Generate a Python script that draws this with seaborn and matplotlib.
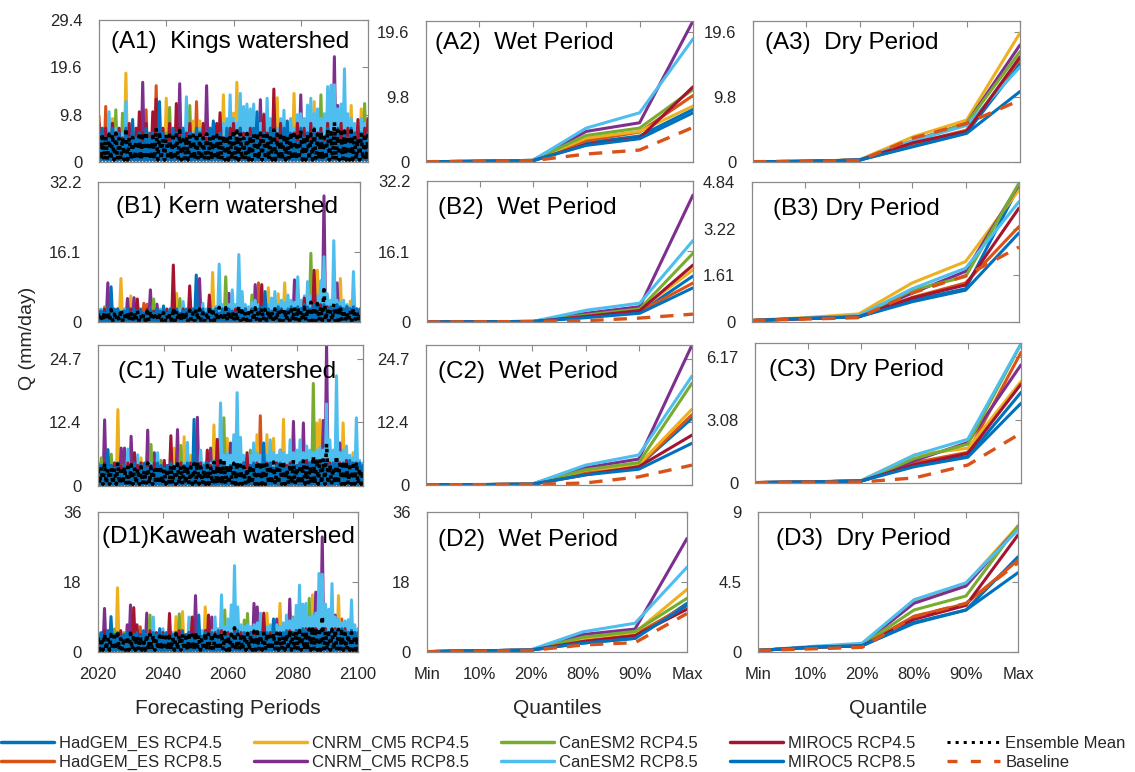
import numpy as np
import matplotlib
matplotlib.use("Agg")
import matplotlib.pyplot as plt
import seaborn as sns
from matplotlib import font_manager
from matplotlib.lines import Line2D

sns.set_theme(style="white")
_names = {f.name for f in font_manager.fontManager.ttflist}
BASE = "Liberation Sans" if "Liberation Sans" in _names else "DejaVu Sans"
NARROW = "Liberation Sans Narrow" if "Liberation Sans Narrow" in _names else BASE
plt.rcParams["font.family"] = [BASE, "DejaVu Sans"]

# ---------------- categories ----------------
series_names = ["HadGEM_ES RCP4.5", "HadGEM_ES RCP8.5", "CNRM_CM5 RCP4.5", "CNRM_CM5 RCP8.5",
                "CanESM2 RCP4.5", "CanESM2 RCP8.5", "MIROC5 RCP4.5", "MIROC5 RCP8.5"]
series_colors = ["#0072BD", "#D95319", "#EDB120", "#7E2F8E", "#77AC30", "#4DBEEE", "#A2142F", "#0072BD"]
baseline_color = "#D95319"
quantile_labels = ["Min", "10%", "20%", "80%", "90%", "Max"]
year_ticks = [2020, 2040, 2060, 2080, 2100]
years = np.arange(2020, 2101)

# ---------------- annual peak flows (mm/day), Kings ----------------
kings_had45 = [5,4,6,3,5,4,6,5,4,3, 5,6,4,5,3,6,4,5,6,4, 3,5,4,6,5,4,3,5,6,4, 5,3,6,4,5,6,4,3,5,4,
               6,5,4,3,6,5,4,5,3,6, 4,5,6,3,4,5,6,4,5,3, 6,4,5,3,6,5,4,6,3,5, 4,6,5,3,4,6,5,4,3,5, 4]
kings_had85 = [9.5,4,11.5,5,3,6,4,5,3,6, 4,5,3,6,10.8,4,5,15.8,3,6, 5,4,6,3,5,4,6,3,5,12.5, 4,6,3,5,4,6,5,3,4,6,
               5,3,6,4,5,3,4,6,5,4, 6,3,5,4,6,5,3,4,6,5, 3,5,4,6,3,5,4,6,5,3, 6,4,5,3,6,4,5,3,6,4, 5]
kings_cnrm45 = [3,4,2,5,9,3,4,2,18.4,3, 4,2,5,3,4,2,3,5,2,4, 13.2,3,5,2,4,3,2,4,8.5,3, 8.5,4,2,5,3,4,2,13.9,3,2,
                10.1,16.5,3,2,4,5,3,2,4,3, 2,5,3,13.3,4,2,3,5,14.2,2, 4,3,5,2,12.5,3,4,2,5,3, 2,4,3,5,2,11.7,4,3,11,2, 4]
kings_cnrm85 = [2,4,3,5,2,6,3,4,2,5, 3,4,2,16.5,5,3,4,2,6,3, 4,2,5,3,16.2,4,2,3,5,4, 2,6,15.8,3,4,2,5,3,4,2,
                5,3,4,2,6,3,4,5,12.9,3, 4,2,5,3,4,6,2,3,5,4, 13.9,3,5,4,2,6,3,4,5,3, 21.8,11.7,4,3,5,2,6,4,3,5, 3]
kings_can45 = [5,7,4,6,8,10.8,5,10.1,4,6, 5,3,6,4,7,5,3,6,4,5, 6,11.3,4,7,5,3,6,11.7,4,5, 7,4,5,6,3,7,4,5,6,4,
               5,7,4,6,3,5,7,4,6,5, 4,6,5,7,3,5,6,8,4,6, 5,7,4,6,8,5,13.9,4,6,7, 5,4,8,6,5,7,4,6,5,12.1, 6]
kings_can85 = [5,6,4,10.4,5,7,4,6,12.5,5, 6,4,7,5,6,4,7,5,6,4, 5,7,4,6,5,7,13.5,4,6,5, 7,4,6,5,8,6,7,8,9,13.9,
               9,8,14.2,11.5,12,11,12,9,8,10, 13.2,9,8,7,9,10.7,8,9,7,9.8, 10,9,11.8,13.2,10,11,9,10,15.6,15.9,
               16,11,12,19.3,10,9,8,7,9,8, 7]
kings_miroc45 = [8,6,7,5,8,6,7,5,6,8, 5,7,10.4,6,8,5,10.4,13,6,7, 5,8,6,12.1,7,5,6,8,5,7, 6,8,5,7,6,8,10.2,5,6,7,
                 8,5,7,6,5,7,6,8,5,9.8, 6,7,15.1,5,8,6,7,5,6,8, 5,7,6,8,5,6,7,5,8,6, 7,5,8,6,7,5,6,8.8,5,7, 9]
kings_miroc85 = [6,7,5,6,7,5,6,4,7,5, 8.8,5,6,4,7,5,6,5,12.5,6, 5,4,7,6,5,7,4,6,5,7, 6,5,4,7,8.5,5,6,4,7,5,
                 6,4,7,5,6,5,7,10.4,4,6, 5,7,6,4,5,7,8.5,6,5,4, 7,5,6,4,7,5,6,4,7,6, 5,7,4,6,5,7,6,4,6,5, 6]

# ---------------- Kern ----------------
kern_had45 = [2,1.5,2.5,1,2,3,1.5,2,1,2.5, 2,1,2.5,1.5,2,1,3,2,1.5,2, 1,2.5,2,1,3,1.5,2,1,2.5,2,
              1.5,2,1,2.5,2,3,1,2,1.5,2.5, 2,1,3,2,1.5,2,2.5,1,2,3, 1.5,2,1,2.5,3,2,1.5,2,1,2.5,
              2,3,1.5,2,2.5,1,2,3,1.5,2.5, 2,1,3,2,1.5,2.5,2,1,2,1.5, 2]
kern_had85 = [1.5,2,3,1,2.5,2,1,3,2,1.5, 2,1,2.5,2,4.3,4.1,1.5,2,1,2.5, 2,1.5,1,2.5,2,1,3,1.5,2,1,
              2.5,1,2,1.5,3,2,1,2.5,2,1, 1.5,2,1,3,2,2.5,1,2,1.5,9.0, 2,1,2.5,2,1.5,3,2,1,2.5,2,
              1,2,3,1.5,2,2.5,1,2,3,2, 1.5,2.5,2,1,3,2,1.5,2,1,2.5, 2]
kern_cnrm45 = [1,2,1.5,1,2,1,1.5,10.0,1,2, 6.0,1,2,1.5,1,2.5,1,2,1,1.5, 2,1,1.5,2,6.6,1,2,1,1.5,2,
               1,2,1.5,1,2,11.4,1,2.5,1,2, 1.5,1,2,2.5,1,2,1.5,1,2,1, 2,1.5,7.9,1,2,6.5,1,9.0,2,1.5,
               2,1,2.5,2,1,3,2,11.9,1.5,2, 3,2,1.5,2,10.0,2,1,4.8,2,1.5, 2]
kern_cnrm85 = [1.5,1,2,9.0,1,2,1.5,1,2,5.4, 1,5.6,1.5,2,1,2,7.4,1,4.1,1.5, 2,1,1.5,2,1,2.5,1,2,1.5,1,
               2,10.0,1,2,1.5,1,2,1,2.5,1.5, 6.6,2,1,1.5,2,1,2.5,2,8.6,1, 2,1.5,1,2,2.5,1,2,1.5,3,2,
               9.7,2,1.5,3,2,2.5,1,2,3,29.0, 2,3,1.5,9.0,2,3,1,2,1.5,2, 1]
kern_can45 = [2,2.5,3.5,1.5,2,1,2.5,2,1.5,2, 1,2.5,2,1,1.5,2,1,5.3,2,1.5, 2,1,2.5,2,1,5.4,1.5,2,1,2.5,
              2,1,1.5,2,2.5,1,2,1.5,2,10.4, 1,2,2.5,1.5,2,1,2.5,6.2,2,1.5, 2.5,2,1,3,2,1.5,2.5,2,1,3,
              2,2.5,1.5,3,2,15.8,2,2.5,3,2, 3,2,1.5,2.5,2,3,1.5,2,2.5,2, 1.5]
kern_can85 = [2,3,2.5,2,3,1.5,2,2.5,3,2, 2.5,2,3,1.5,2,2.5,3,2,2.5,3, 2,2.5,3,2,2.5,3,4.7,2,3,2.5,
              3,2.5,4.3,3,2.5,3,3.5,13.3,4,3.5, 4,7.4,4,15.5,7.0,4,3.5,4.5,5,4, 4.5,5,4,5.5,7.0,4,5,4.5,6.2,5,
              4.5,10.4,5,6,9.3,6,5,6,9.5,15.0, 6.5,5,18.7,5,4.5,5,4,3.5,11.6,3, 3]
kern_miroc45 = [2.5,2,3,2,2.5,1.5,3,2,2.5,2, 3,2,5.3,2.5,2,3,2,2.5,3,2, 2.5,3,2,13.1,2.5,2,3,2,8.3,2.5,
                2,3,2.5,2,6.2,2.5,3,2,2.5,3, 2,2.5,3,2,2.5,3,2,3,2.5,2, 8.6,3,2.5,2,3,2.5,3,2,2.5,3,
                3,2.5,3,5.5,3,2.5,11.9,3,4,3, 3.5,3,2.5,3,2.5,3,3.5,3,2.5,3, 2.5]
kern_miroc85 = [3,2.5,2,3,8.1,2.5,3,2,2.5,3, 2,3,2.5,3,2,2.5,3,2,3,2.5, 3.7,2,3,2.5,3,2,2.5,3,2,3,
                10.8,2.5,3,2,3,2.5,3,2,3,2.5, 3,2.5,2,3,2.5,3,2,3,2.5,3, 3.5,7.0,3,2.5,3,3.5,3,2.5,3,3.5,
                3,3.5,3,4,3.5,3,4,3.5,3,4, 3,3.5,3,4,3.5,3,3.5,3,3.5,3, 3]

# ---------------- Tule ----------------
tule_had45 = [3,4,2.5,3.5,2,4,3,2.5,4,3, 2.5,3.5,4,2,3,4,2.5,3,3.5,2, 4,3,2.5,3.5,2,3,4,2.5,3,3.5,
              2,4,3,2.5,3.5,4,2,3,4,2.5, 3,3.5,2,4,3,2.5,3.5,2,4,3, 2.5,4,3,3.5,2,4,3,2.5,3.5,4,
              3,2.5,4,3.5,2,3,4,2.5,3.5,3, 4,2.5,3,3.5,2,4,3,2.5,3.5,3, 2.5]
tule_had85 = [2.5,3,4,2,3.5,3,2.5,4,3,2, 3.5,3,2,4,2.5,3,3.5,2,4,3, 2,3.5,3,2.5,4,3,2,3.5,3,2.5,
              4,3,2,3.5,3,2.5,4,3,2,3.5, 3,2.5,4,3,2,3.5,3,2.5,4,13.7, 3,2,3.5,4,3,2.5,3.5,2,4,3,
              2.5,3.5,3,2,4,3,2.5,3.5,3,4, 2,3,3.5,2.5,4,3,2,3.5,3,2.5, 3]
tule_cnrm45 = [2,3,2.5,2,3,2.5,14.9,2,3,2.5, 2,3,2.5,5.5,2,3,2,2.5,3,2, 2.5,3,2,7.4,2.5,3,9.6,2,6.0,2.5,
               3,2,2.5,3,2,11.9,2.5,3,2,9.3, 2.5,3,2,2.5,3,2,3,2.5,10.0,2, 3,10.0,2.5,9.3,2,3,13.0,2.5,3,2,
               2.5,3,2,3.5,2.5,3,12.3,12.9,3,2.5, 3,2,3.5,2.5,12.3,3,2,6.5,2.5,3, 2]
tule_cnrm85 = [3,2.5,12.9,2,3,2.5,2,7.4,7.4,3, 9.7,2.5,3,2,3,10.9,2.5,6.5,3,2, 2.5,3,2,3,11.0,2.5,3,2,2.5,3,
               13.4,2,3,2.5,7.4,3,2,2.5,3,2, 8.4,3,2.5,2,3,2.5,3,2,2.5,3, 2,3,2.5,3,2,7.0,3,2.5,3,12.6,
               3,2.5,12.3,3,2.5,3,3.5,3,12.8,27.5, 3,2.5,3,8.4,3,2.5,3,2,3,2.5, 2]
tule_can45 = [3.5,5.5,3,4,6.2,3,3.5,4,3,3.5, 4,3,3.5,4,3,3.5,8.1,3,4,5.0, 3,3.5,4,3,3.5,7.9,3,4,3.5,3,
              4,3.5,3,4,3.5,3,4,3.5,13.3,3, 3.5,4,3,3.5,4,3,7.0,3.5,4,3, 4,3,3.5,4,3,4,3.5,3,4,4.5,
              3.5,4,4.5,3,4,20.0,4,4.5,5,4, 4.5,4,3.5,4,3,4,4.5,3.5,4,3.5, 3]
tule_can85 = [3,4,3.5,4,3,4.5,3.5,4,3,7.2, 4,3.5,6.1,4,3.5,4,4.5,3.5,6.5,4, 3.5,4,4.5,4,3.5,4,4.5,8.5,4,4.5,
              4,7.0,4.5,5,4.5,5,5.5,16.2,6,6.5, 6,10.0,18.2,9.5,6,5.5,6,8.4,6.5,6, 6.5,6,9.0,6.5,6,7,6.5,6,9.0,6.5,
              7,9.0,6.5,7.8,7,6.5,7,7.5,7,16.0, 9.0,7,21.5,6.5,7,7.8,6,5.5,13.3,5, 4.5]
tule_miroc45 = [4,3.5,4.5,3,4,4.5,3.5,4,3,4.5, 3.5,6.5,4,4.5,3.5,4,3,4.5,4,3.5, 5.0,4,9.8,3.5,4,4.5,3.5,4,4.5,3,
                4,4.5,3.5,7.0,4,3.5,9.1,4,4.5,3.5, 4,4.5,3.5,4,4.5,6.5,4,3.5,4.5,4, 3.5,4.5,4,3.5,4.5,4,3.5,4,4.5,3.5,
                4,4.5,4,5,4.5,4,5,4.5,4,5, 4.5,4,5,4.5,4,5,4.5,4,4.5,4, 3.5]
tule_miroc85 = [4.5,4,3.5,7.1,4,3.5,4.5,3,4,3.5, 4,4.5,3,4,4.5,3.5,4,3,4.5,4, 3.5,4,4.5,3,4,3.5,4,4.5,3,13.0,
                4,3.5,4,4.5,3,4,3.5,4,4.5,3.5, 4,4.5,3.5,4,4.5,3,4,4.5,3.5,4, 8.4,4,4.5,3.5,4,4.5,4,3.5,4,4.5,
                4,4.5,5,4,4.5,5,4.5,4,5,4.5, 4,4.5,5,4,4.5,4,5,4.5,4,4.5, 4]

# ---------------- Kaweah ----------------
kaweah_had45 = [4,3,5,2.5,4,3.5,5,3,4,2.5, 3.5,5,3,4,2.5,4.5,3,5,3.5,4, 3,4.5,2.5,4,5,3,3.5,4,2.5,5,
                3.5,4,3,5,2.5,4,4.5,3,4,3.5, 5,3,4,2.5,4.5,3.5,4,5,3,4, 2.5,4.5,3.5,4,5,3,4,3.5,4.5,3,
                4,5,3.5,4,3,4.5,5,3.5,4,3, 4.5,3.5,4,5,3,4,3.5,4.5,3,4, 3.5]
kaweah_had85 = [3,4,2.5,3.5,4.5,3,4,2.5,3.5,4, 3,2.5,4,6.5,3,3.5,4,2.5,3,4.5, 3.5,3,4,2.5,3.5,4,3,4.5,2.5,3.5,
                4,3,2.5,3.5,4,3,4.5,3.5,2.5,4, 3,3.5,4,3,2.5,4.5,3,4,3.5,3, 4,2.5,3.5,4,3,4.5,3,2.5,4,3.5,
                3,4,3.5,3,4.5,3.5,4,3,4.5,3.5, 4,3,3.5,4,3,8.5,3.5,4,3,3.5, 4]
kaweah_cnrm45 = [2.5,3,2,3.5,2.5,3,16.5,2,3,2.5, 3,2,3.5,2.5,3,2,2.5,3,2,3.5, 2.5,3,2,3,9.1,2.5,10.4,3,2,2.5,
                 3,2.5,2,11.6,3,2.5,2,3,2.5,3, 2,3,2.5,3,2,3.5,2.5,3,2,3, 2.5,3,10.0,2.5,3,2,12.5,3,2.5,3,
                 3.5,3,2.5,3,3.5,3,14.7,3,3.5,3, 3,3.5,3,2.5,14.5,3,3.5,3,2.5,3, 2.5]
kaweah_cnrm85 = [3,2.5,11.2,3,2,3.5,2.5,3,2,7.0, 12.1,3,2.5,2,3,10.0,2.5,3,2,3, 2.5,3,2,3,2.5,2,3,2.5,3,2,
                 14.5,2.5,3,2,3,9.0,2.5,3,2,3, 2.5,3,2,2.5,3,2,3,2.5,12.5,11.6, 3,2.5,3,2,3,8.5,2.5,3,3.5,13.6,
                 3,3.5,3,2.5,3,3.5,3,15.4,3.5,29.6, 3,3.5,3,9.5,3,3.5,3,2.5,3,3.5, 3]
kaweah_can45 = [4,3.5,4.5,3,4,5.9,3.5,4,5.0,3.5, 4,4.5,3.5,4,3,4.5,9.5,4,3.5,4, 4.5,3.5,4,4.5,3,9.8,4,3.5,4.5,4,
                3.5,4,4.5,3,4,4.5,3.5,4,4.5,10.8, 4,3.5,4.5,4,3.5,8.2,9.9,4,4.5,3.5, 4,4.5,3.5,4,4.5,4,3.5,4.5,4,5,
                9.0,4.5,5,4,4.5,13.8,5,4.5,5,4.5, 5,4.5,4,5,4.5,4,5,4.5,4,4.5, 4]
kaweah_can85 = [4,4.5,3.5,4,5,4.5,4,3.5,4.5,4, 4.5,4,5,4.5,4,4.5,5,9.0,4.5,4, 6.0,4.5,4,5,4.5,5,4,4.5,9.0,5,
                4.5,5,5.5,5,6,5.5,9.0,6,14.7,6.5, 8.5,12.1,22.2,11.6,7,6.5,7,6.5,7,7.5, 10.0,7,6.5,7,7.5,7,6.5,7.5,9.5,8,
                8.5,12.0,17.2,12.3,12.5,9,9.5,10,20.2,20.0, 12.3,11.0,17.6,9,8.5,7.5,8.0,8.3,13.4,7, 6]
kaweah_miroc45 = [5,4,5.5,4.5,5,4,4.5,5.5,4,5, 4.5,11.4,7.0,4.5,5,4,5.5,4.5,5,4, 5,4.5,9.9,4,5,5.5,4.5,4,5,9.0,
                  4.5,5,4,5.5,9.5,4.5,5,4,5.5,4.5, 5,4,5.5,4.5,5,4,4.5,5,5.5,4.5, 5,10.0,4.5,5,5.5,4.5,5,4.5,5,5.5,
                  5,5.5,4.5,5,6,5,5.5,6,5,5.5, 6,5,5.5,6,5,5.5,6,5,5.5,5, 4.5]
kaweah_miroc85 = [4.5,5,4,5.5,9.1,4.5,5,4,4.5,5, 4,4.5,5,4,5.5,4.5,4,5,4.5,6.0, 4.5,5,4,4.5,5,4,5.5,4.5,5,4,
                  4.5,9.5,4,5,4.5,5,4,5.5,4.5,5, 4,4.5,5,5.5,4,5,4.5,5,4,4.5, 5,4.5,5,4,8.5,5,4.5,5,5.5,5,
                  5,5.5,5,6,5.5,5,6,5.5,5,6, 5.5,5,6,5.5,5,6,5.5,5,5.5,5, 5]

# flow between wet-season peaks (mm/day) for each watershed
trough_levels = [0.4, 0.2, 0.3, 0.4]

# ---------------- quantile flows: rows = 8 GCM runs + baseline ----------------
kings_wet = [[0.05, 0.1, 0.2, 2.9, 3.9, 7.9], [0.05, 0.1, 0.2, 3.2, 4.5, 10.0],
             [0.05, 0.1, 0.25, 3.6, 4.6, 8.4], [0.05, 0.1, 0.25, 4.6, 5.9, 21.2],
             [0.05, 0.1, 0.25, 4.0, 5.1, 10.9], [0.05, 0.1, 0.25, 5.1, 7.4, 18.5],
             [0.05, 0.1, 0.2, 2.6, 3.6, 11.3], [0.05, 0.1, 0.2, 2.5, 3.5, 7.4],
             [0.05, 0.1, 0.2, 1.2, 1.8, 5.2]]
kings_dry = [[0.05, 0.1, 0.3, 2.4, 4.4, 14.8], [0.05, 0.1, 0.3, 2.8, 4.8, 15.5],
             [0.05, 0.1, 0.35, 3.8, 6.3, 19.4], [0.05, 0.1, 0.3, 3.2, 5.8, 17.6],
             [0.05, 0.1, 0.3, 3.1, 5.8, 16.6], [0.05, 0.1, 0.3, 3.2, 5.5, 14.3],
             [0.05, 0.1, 0.3, 2.9, 4.6, 15.8], [0.05, 0.1, 0.3, 2.3, 4.3, 10.6],
             [0.05, 0.1, 0.2, 3.6, 5.8, 9.3]]
kern_wet = [[0.02, 0.05, 0.1, 1.2, 2.2, 10.5], [0.02, 0.05, 0.1, 1.3, 2.4, 8.9],
            [0.02, 0.05, 0.15, 1.5, 2.8, 11.9], [0.02, 0.05, 0.15, 2.0, 3.5, 29.0],
            [0.02, 0.05, 0.15, 1.6, 3.0, 15.7], [0.02, 0.05, 0.15, 2.7, 4.3, 18.6],
            [0.02, 0.05, 0.1, 1.3, 2.6, 13.0], [0.02, 0.05, 0.1, 1.0, 2.0, 7.8],
            [0.02, 0.05, 0.1, 0.3, 0.9, 1.8]]
kern_dry = [[0.05, 0.12, 0.18, 0.75, 1.15, 4.7], [0.05, 0.12, 0.18, 0.85, 1.35, 3.30],
            [0.06, 0.15, 0.28, 1.35, 2.09, 4.57], [0.05, 0.13, 0.2, 1.0, 1.75, 4.75],
            [0.05, 0.13, 0.2, 1.1, 1.57, 4.8], [0.05, 0.13, 0.22, 1.15, 1.86, 4.16],
            [0.05, 0.12, 0.18, 0.83, 1.28, 3.94], [0.05, 0.12, 0.18, 0.70, 1.1, 3.08],
            [0.05, 0.1, 0.15, 1.0, 1.6, 2.59]]
tule_wet = [[0.05, 0.08, 0.15, 2.4, 3.8, 13.1], [0.05, 0.08, 0.15, 2.4, 3.8, 13.8],
            [0.05, 0.08, 0.2, 2.9, 4.0, 14.9], [0.05, 0.08, 0.2, 3.4, 5.1, 27.5],
            [0.05, 0.08, 0.2, 3.0, 4.4, 20.0], [0.05, 0.08, 0.2, 3.9, 5.9, 21.4],
            [0.05, 0.08, 0.15, 2.0, 3.6, 9.8], [0.05, 0.08, 0.15, 2.0, 3.1, 8.2],
            [0.05, 0.08, 0.1, 0.4, 1.6, 3.9]]
tule_dry = [[0.02, 0.05, 0.1, 0.9, 1.3, 4.43], [0.02, 0.05, 0.1, 1.0, 1.5, 6.39],
            [0.02, 0.05, 0.12, 1.37, 1.7, 4.97], [0.02, 0.05, 0.1, 1.1, 1.98, 5.78],
            [0.02, 0.05, 0.1, 1.2, 1.9, 6.8], [0.02, 0.05, 0.12, 1.37, 2.14, 6.82],
            [0.02, 0.05, 0.1, 0.9, 1.45, 4.84], [0.02, 0.05, 0.1, 0.8, 1.26, 3.9],
            [0.02, 0.04, 0.05, 0.25, 0.88, 2.44]]
kaweah_wet = [[0.1, 0.3, 0.5, 2.3, 3.5, 12.5], [0.1, 0.3, 0.5, 3.0, 4.5, 12.0],
              [0.1, 0.3, 0.5, 3.5, 5.0, 16.1], [0.1, 0.3, 0.5, 4.5, 5.9, 29.2],
              [0.1, 0.3, 0.5, 3.8, 5.3, 13.8], [0.1, 0.3, 0.6, 5.2, 7.4, 21.8],
              [0.1, 0.3, 0.5, 2.7, 4.2, 11.0], [0.1, 0.3, 0.5, 2.3, 3.5, 12.0],
              [0.1, 0.2, 0.4, 1.8, 2.4, 9.9]]
kaweah_dry = [[0.1, 0.3, 0.4, 1.84, 2.7, 6.12], [0.1, 0.3, 0.4, 2.3, 3.1, 5.9],
              [0.1, 0.3, 0.5, 3.2, 4.4, 8.1], [0.1, 0.3, 0.5, 3.13, 4.24, 8.0],
              [0.1, 0.3, 0.45, 2.7, 3.6, 8.1], [0.1, 0.35, 0.56, 3.36, 4.45, 7.84],
              [0.1, 0.3, 0.4, 2.1, 3.0, 7.52], [0.1, 0.3, 0.4, 1.9, 2.7, 5.1],
              [0.1, 0.2, 0.3, 2.27, 3.13, 5.74]]

# ---------------- axis ticks ----------------
yt_kings = [0, 9.8, 19.6, 29.4]
yt_kings_q = [0, 9.8, 19.6]
yt_kern = [0, 16.1, 32.2]
yt_kern_dry = [0, 1.61, 3.22, 4.84]
yt_tule = [0, 12.4, 24.7]
yt_tule_dry = [0, 3.08, 6.17]
yt_kaweah = [0, 18, 36]
yt_kaweah_dry = [0, 4.5, 9]

# ---------------- figure ----------------
W, H = 1135, 772
fig = plt.figure(figsize=(W / 100, H / 100), dpi=100)
AX_COL = "#8a8a8a"


def add_ax(x0, x1, y0, y1):
    return fig.add_axes([x0 / W, 1 - y1 / H, (x1 - x0) / W, (y1 - y0) / H])


def fmt(v):
    return "0" if v == 0 else ("%g" % v)


def style(ax, yticks, ylim, xticks, xlim, xlabels=None):
    ax.set_xlim(*xlim)
    ax.set_ylim(*ylim)
    ax.set_yticks(yticks)
    ax.set_yticklabels([fmt(v) for v in yticks])
    ax.set_xticks(xticks)
    if xlabels is None:
        ax.set_xticklabels([])
    else:
        ax.set_xticklabels(xlabels, family=[NARROW, "DejaVu Sans"], fontsize=12.5)
    for s in ax.spines.values():
        s.set_visible(True)
        s.set_color(AX_COL)
        s.set_linewidth(0.9)
    ax.tick_params(direction="in", length=4, width=0.8, color=AX_COL, top=True, right=True,
                   labelsize=12, labelcolor="#262626")
    ax.tick_params(axis="y", pad=12)
    ax.tick_params(axis="x", pad=11)
    ax.set_xlabel("")
    ax.set_ylabel("")
    ax.grid(False)


def draw_ts(ax, series, trough):
    n = len(years)
    xs = np.empty(2 * n)
    xs[0::2] = years
    xs[1::2] = years + 0.5
    for peaks, col in zip(series, series_colors):
        ys = np.empty(2 * n)
        ys[0::2] = peaks
        ys[1::2] = trough
        sns.lineplot(x=xs, y=ys, ax=ax, color=col, lw=2.2, estimator=None, sort=False, legend=False)
    ens = np.mean(np.array(series, dtype=float), axis=0)
    ys = np.empty(2 * n)
    ys[0::2] = ens
    ys[1::2] = trough
    sns.lineplot(x=xs, y=ys, ax=ax, color="black", lw=2.6, linestyle=":", estimator=None,
                 sort=False, legend=False)


def draw_q(ax, rows):
    q = np.arange(1, 7)
    for vals, col in zip(rows[:8], series_colors):
        sns.lineplot(x=q, y=vals, ax=ax, color=col, lw=2.2, estimator=None, sort=False, legend=False)
    sns.lineplot(x=q, y=rows[8], ax=ax, color=baseline_color, lw=2.4, linestyle=(0, (4, 3)),
                 estimator=None, sort=False, legend=False)


TITLE_KW = dict(fontsize=17.5, color="black", va="center", ha="left")

panels_ts = [
    ("(A1)  Kings watershed", [kings_had45, kings_had85, kings_cnrm45, kings_cnrm85, kings_can45, kings_can85, kings_miroc45, kings_miroc85],
     (99, 368, 20, 162), yt_kings, (0, 29.4), (0.045, 0.845)),
    ("(B1) Kern watershed", [kern_had45, kern_had85, kern_cnrm45, kern_cnrm85, kern_can45, kern_can85, kern_miroc45, kern_miroc85],
     (98, 360, 182, 322), yt_kern, (0, 32.2), (0.07, 0.82)),
    ("(C1) Tule watershed", [tule_had45, tule_had85, tule_cnrm45, tule_cnrm85, tule_can45, tule_can85, tule_miroc45, tule_miroc85],
     (98, 363, 345, 486), yt_tule, (0, 27.5), (0.075, 0.81)),
    ("(D1)Kaweah watershed", [kaweah_had45, kaweah_had85, kaweah_cnrm45, kaweah_cnrm85, kaweah_can45, kaweah_can85, kaweah_miroc45, kaweah_miroc85],
     (98, 358, 512, 652), yt_kaweah, (0, 36), (0.015, 0.82)),
]
for k, (title, series, box, yt, ylim, tpos) in enumerate(panels_ts):
    ax = add_ax(*box)
    draw_ts(ax, series, trough_levels[k])
    last = k == 3
    style(ax, yt, ylim, year_ticks, (2020, 2100), [str(y) for y in year_ticks] if last else None)
    ax.text(tpos[0], tpos[1], title, transform=ax.transAxes, **TITLE_KW)
    if last:
        ax.set_xlabel("Forecasting Periods", family=[NARROW, "DejaVu Sans"], fontsize=15, labelpad=12)

panels_q = [
    ("(A2)  Wet Period", kings_wet, (426, 693, 21, 162), yt_kings_q, (0, 21.2), (0.034, 0.845)),
    ("(A3)  Dry Period", kings_dry, (753, 1020, 21, 162), yt_kings_q, (0, 21.2), (0.045, 0.845)),
    ("(B2)  Wet Period", kern_wet, (427, 693, 181, 322), yt_kern, (0, 32.2), (0.04, 0.81)),
    ("(B3) Dry Period", kern_dry, (752, 1019, 182, 322), yt_kern_dry, (0, 4.84), (0.08, 0.81)),
    ("(C2)  Wet Period", tule_wet, (426, 692, 345, 485), yt_tule, (0, 27.5), (0.045, 0.81)),
    ("(C3)  Dry Period", tule_dry, (755, 1021, 343, 483), yt_tule_dry, (0, 6.85), (0.053, 0.81)),
    ("(D2)  Wet Period", kaweah_wet, (427, 687, 512, 652), yt_kaweah, (0, 36), (0.042, 0.80)),
    ("(D3)  Dry Period", kaweah_dry, (758, 1018, 512, 652), yt_kaweah_dry, (0, 9), (0.07, 0.81)),
]
for title, rows, box, yt, ylim, tpos in panels_q:
    ax = add_ax(*box)
    draw_q(ax, rows)
    last = title.startswith("(D")
    style(ax, yt, ylim, list(range(1, 7)), (1, 6), quantile_labels if last else None)
    ax.text(tpos[0], tpos[1], title, transform=ax.transAxes, **TITLE_KW)
    if last:
        ax.set_xlabel("Quantiles" if "Wet" in title else "Quantile",
                      family=[NARROW, "DejaVu Sans"], fontsize=15, labelpad=12)

fig.text(28 / W, 1 - 338 / H, "Q (mm/day)", rotation=90, ha="center", va="center", fontsize=14)

handles = [Line2D([], [], color=c, lw=2.5) for c in series_colors]
handles.append(Line2D([], [], color="black", lw=2.2, linestyle=":"))
handles.append(Line2D([], [], color=baseline_color, lw=2.4, linestyle=(0, (3, 4))))
labels = series_names + ["Ensemble Mean", "Baseline"]
fig.legend(handles, labels, ncol=5, loc="lower left", bbox_to_anchor=(-0.002, -0.002), frameon=False,
           prop={"family": [NARROW, "DejaVu Sans"], "size": 12}, handlelength=3.2, handletextpad=0.3,
           columnspacing=1.9, labelspacing=0.25, borderaxespad=0.0, borderpad=0.2)

fig.savefig("out.png", dpi=100)
